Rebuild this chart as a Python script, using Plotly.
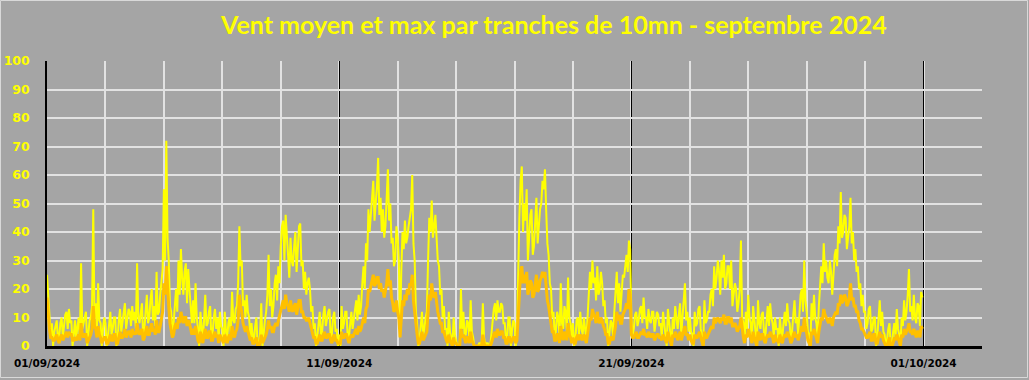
import pandas as pd
import plotly.graph_objects as go

# ---- data: hourly values, 24 per day ----
vent_max = [
    25, 18, 12, 4, 8, 0, 5, 7, 9, 2, 3, 8, 10, 3, 7, 11, 12, 6, 13, 8, 9, 0, 4, 9,          # 01/09
    3, 7, 10, 2, 29, 6, 8, 11, 12, 0, 4, 9, 10, 14, 48, 10, 15, 5, 22, 9, 8, 0, 6, 10,      # 02/09
    8, 0, 3, 9, 12, 4, 6, 10, 10, 0, 2, 9, 13, 5, 8, 11, 15, 6, 10, 13, 12, 7, 14, 9,       # 03/09
    12, 6, 29, 10, 8, 13, 15, 3, 6, 12, 18, 8, 10, 16, 20, 9, 14, 7, 26, 11, 12, 18, 22, 27,# 04/09
    55, 30, 72, 38, 30, 14, 12, 4, 8, 16, 20, 12, 30, 18, 34, 24, 18, 26, 29, 15, 27, 20, 14, 8,  # 05/09
    16, 8, 22, 10, 6, 0, 12, 5, 2, 9, 18, 7, 8, 12, 14, 3, 4, 10, 13, 6, 10, 2, 12, 7,      # 06/09
    6, 0, 12, 5, 3, 8, 10, 4, 19, 9, 8, 13, 14, 22, 42, 28, 30, 14, 16, 10, 18, 12, 10, 3,  # 07/09
    8, 3, 2, 7, 10, 0, 0, 4, 15, 0, 6, 9, 12, 18, 32, 14, 20, 10, 14, 22, 25, 16, 28, 22,   # 08/09
    35, 42, 44, 30, 46, 36, 32, 24, 38, 30, 28, 35, 40, 26, 34, 42, 43, 28, 30, 20, 26, 18, 22, 24,  # 09/09
    20, 12, 14, 6, 8, 0, 3, 9, 12, 4, 5, 11, 14, 7, 10, 12, 13, 3, 4, 10, 12, 5, 6, 0,      # 10/09
    4, 0, 14, 6, 8, 12, 12, 3, 3, 9, 12, 6, 10, 13, 16, 9, 18, 11, 14, 22, 28, 20, 36, 30,  # 11/09
    48, 40, 45, 52, 58, 44, 50, 56, 66, 46, 52, 40, 48, 38, 42, 50, 62, 44, 50, 36, 38, 28, 30, 42,  # 12/09
    38, 30, 5, 26, 40, 34, 44, 36, 38, 42, 45, 48, 60, 36, 30, 12, 8, 0, 2, 9, 12, 4, 6, 10,  # 13/09
    12, 30, 45, 40, 51, 38, 42, 46, 38, 30, 28, 18, 20, 10, 14, 6, 6, 0, 12, 5, 3, 0, 10, 4,  # 14/09
    2, 0, 0, 1, 20, 6, 12, 4, 4, 9, 8, 2, 16, 5, 3, 0, 0, 0, 0, 1, 1, 0, 15, 3,             # 15/09
    0, 1, 1, 0, 0, 4, 10, 13, 15, 9, 16, 12, 12, 15, 14, 8, 8, 2, 3, 10, 10, 0, 6, 9,       # 16/09
    8, 0, 4, 30, 45, 58, 63, 40, 50, 44, 55, 30, 38, 46, 48, 32, 35, 44, 52, 36, 42, 48, 50, 58,  # 17/09
    55, 62, 48, 36, 32, 22, 20, 10, 12, 4, 5, 12, 10, 3, 22, 8, 6, 14, 12, 5, 24, 10, 8, 3,  # 18/09
    8, 0, 2, 9, 10, 4, 12, 6, 4, 10, 6, 2, 10, 18, 26, 20, 30, 22, 24, 16, 28, 18, 20, 26,  # 19/09
    22, 14, 16, 8, 10, 0, 4, 9, 8, 3, 12, 18, 26, 15, 22, 12, 18, 25, 24, 28, 32, 26, 37, 34,  # 20/09
    10, 4, 6, 11, 12, 7, 9, 13, 14, 8, 17, 10, 10, 6, 13, 9, 8, 12, 12, 5, 9, 12, 11, 7,    # 21/09
    8, 3, 12, 7, 5, 0, 13, 8, 3, 0, 10, 6, 14, 9, 6, 11, 15, 4, 10, 16, 22, 9, 12, 5,       # 22/09
    10, 5, 4, 0, 12, 7, 8, 13, 14, 6, 3, 0, 16, 8, 9, 12, 12, 18, 20, 14, 28, 20, 24, 30,   # 23/09
    26, 18, 30, 24, 32, 20, 22, 28, 28, 20, 30, 14, 18, 22, 20, 12, 15, 20, 37, 10, 8, 2, 12, 6,  # 24/09
    18, 10, 8, 2, 14, 9, 4, 0, 16, 8, 6, 11, 12, 4, 3, 9, 14, 7, 15, 10, 8, 3, 10, 6,       # 25/09
    6, 0, 10, 5, 3, 8, 12, 7, 15, 9, 8, 2, 5, 11, 16, 8, 10, 4, 12, 18, 20, 12, 30, 16,     # 26/09
    12, 5, 4, 0, 15, 9, 18, 10, 8, 3, 14, 20, 28, 22, 36, 26, 30, 24, 22, 30, 26, 18, 28, 32,  # 27/09
    34, 28, 42, 36, 54, 38, 40, 46, 45, 34, 38, 42, 52, 36, 40, 30, 34, 26, 28, 20, 22, 14, 18, 12,  # 28/09
    12, 6, 8, 13, 14, 5, 6, 10, 10, 0, 3, 9, 16, 7, 12, 5, 4, 0, 2, 6, 8, 0, 0, 5,          # 29/09
    8, 3, 13, 6, 4, 0, 10, 7, 16, 9, 12, 18, 27, 12, 14, 9, 18, 10, 8, 15, 14, 7, 19, 17,   # 30/09
]
vent_moyen = [
    17, 10, 6, 3, 3, 2, 2, 3, 4, 2, 1, 3, 4, 2, 3, 4, 5, 3, 5, 4, 4, 2, 2, 3,
    2, 3, 4, 2, 8, 4, 3, 4, 4, 1, 2, 3, 4, 6, 14, 7, 6, 3, 7, 4, 3, 1, 2, 3,
    3, 1, 1, 3, 4, 2, 2, 4, 4, 1, 1, 3, 5, 3, 3, 4, 6, 3, 4, 5, 5, 3, 6, 4,
    5, 4, 8, 5, 4, 5, 6, 2, 3, 5, 7, 4, 4, 6, 8, 5, 6, 4, 9, 5, 5, 7, 9, 12,
    22, 18, 28, 18, 14, 8, 6, 3, 4, 7, 8, 6, 10, 8, 12, 10, 8, 10, 10, 7, 9, 8, 6, 4,
    6, 4, 7, 4, 2, 1, 5, 3, 1, 4, 6, 3, 3, 5, 5, 2, 2, 4, 5, 3, 4, 1, 4, 3,
    2, 1, 4, 2, 1, 3, 4, 2, 7, 4, 3, 5, 6, 9, 18, 14, 12, 8, 6, 5, 7, 5, 4, 2,
    3, 1, 1, 2, 3, 0, 0, 1, 4, 1, 2, 3, 4, 6, 9, 6, 7, 5, 5, 7, 8, 7, 9, 10,
    12, 15, 16, 13, 18, 15, 14, 12, 16, 13, 12, 14, 15, 11, 13, 16, 16, 12, 12, 10, 10, 9, 9, 10,
    8, 6, 5, 3, 3, 1, 1, 3, 4, 2, 2, 4, 5, 3, 3, 4, 4, 2, 1, 3, 4, 2, 2, 1,
    1, 1, 5, 3, 3, 4, 4, 2, 1, 3, 4, 3, 4, 5, 6, 4, 7, 5, 6, 8, 10, 8, 13, 14,
    20, 19, 21, 23, 25, 21, 22, 24, 24, 20, 22, 19, 20, 17, 19, 22, 27, 21, 23, 17, 15, 12, 13, 16,
    12, 10, 3, 10, 16, 14, 18, 16, 20, 18, 22, 21, 25, 16, 12, 6, 4, 1, 1, 3, 5, 2, 3, 4,
    5, 12, 18, 16, 22, 18, 17, 19, 14, 12, 10, 8, 8, 5, 5, 3, 2, 1, 4, 2, 1, 0, 3, 1,
    1, 0, 0, 0, 6, 3, 4, 2, 1, 3, 3, 1, 5, 2, 1, 0, 0, 0, 0, 0, 0, 0, 4, 1,
    0, 0, 0, 0, 0, 1, 3, 4, 5, 3, 6, 4, 4, 5, 5, 3, 3, 1, 1, 3, 3, 1, 2, 3,
    3, 1, 2, 12, 20, 26, 28, 22, 25, 22, 26, 18, 20, 23, 22, 17, 18, 21, 25, 19, 20, 23, 24, 26,
    24, 26, 20, 16, 14, 10, 8, 5, 5, 2, 2, 4, 4, 1, 7, 4, 2, 5, 4, 2, 8, 4, 3, 1,
    3, 1, 1, 3, 4, 2, 4, 3, 2, 4, 3, 1, 4, 7, 10, 9, 13, 11, 10, 8, 12, 9, 8, 10,
    9, 7, 6, 4, 4, 1, 1, 3, 3, 2, 4, 7, 12, 9, 11, 8, 8, 11, 12, 13, 15, 13, 20, 18,
    4, 3, 3, 4, 5, 3, 3, 4, 5, 4, 6, 4, 4, 3, 5, 4, 3, 4, 4, 2, 3, 4, 4, 3,
    3, 2, 4, 3, 2, 1, 5, 3, 1, 0, 4, 3, 5, 4, 2, 4, 5, 2, 4, 5, 7, 4, 4, 2,
    4, 2, 1, 1, 4, 3, 3, 4, 5, 3, 1, 0, 5, 3, 3, 4, 5, 6, 7, 6, 10, 8, 9, 10,
    9, 8, 10, 9, 11, 8, 8, 10, 10, 8, 10, 7, 7, 8, 7, 5, 6, 7, 10, 5, 3, 1, 4, 3,
    6, 4, 3, 1, 5, 3, 1, 0, 5, 3, 2, 4, 4, 2, 1, 3, 4, 3, 5, 4, 3, 1, 4, 2,
    2, 1, 4, 2, 1, 3, 4, 3, 5, 4, 3, 1, 2, 4, 5, 3, 4, 2, 4, 6, 7, 5, 10, 7,
    4, 2, 1, 0, 5, 4, 6, 4, 3, 1, 5, 7, 10, 9, 13, 11, 10, 9, 8, 10, 9, 7, 10, 11,
    12, 11, 15, 14, 18, 15, 16, 18, 17, 14, 15, 17, 22, 16, 17, 14, 14, 12, 12, 9, 8, 6, 6, 5,
    4, 3, 3, 4, 5, 2, 2, 4, 4, 1, 1, 3, 5, 3, 4, 2, 1, 0, 0, 2, 3, 0, 0, 1,
    3, 2, 4, 3, 1, 0, 4, 3, 6, 4, 5, 6, 8, 5, 5, 4, 6, 4, 3, 5, 5, 3, 7, 6,
]
date_ticks = ["2024-09-01", "2024-09-11", "2024-09-21", "2024-10-01"]
date_labels = ["01/09/2024", "11/09/2024", "21/09/2024", "01/10/2024"]
y_ticks = list(range(0, 101, 10))
title_text = "Vent moyen et max par tranches de 10mn - septembre 2024"

times = pd.date_range("2024-09-01 00:00", periods=len(vent_max), freq="1h")

BG = "#A5A5A5"
GRID = "#E2E2E2"

fig = go.Figure()
fig.add_trace(go.Scatter(x=times, y=vent_max, mode="lines", name="max",
                         line=dict(color="#FFFF00", width=2), showlegend=False))
fig.add_trace(go.Scatter(x=times, y=vent_moyen, mode="lines", name="moyen",
                         line=dict(color="#FFC000", width=3), showlegend=False))

L, R, T, B = 47, 47, 61, 34
W, H = 1029, 380
pw, ph = W - L - R, H - T - B

fig.update_layout(
    width=W, height=H,
    margin=dict(l=L, r=R, t=T, b=B, autoexpand=False),
    paper_bgcolor=BG, plot_bgcolor=BG,
    font=dict(family="DejaVu Sans", size=11),
    xaxis=dict(
        type="date", range=["2024-09-01", "2024-10-03"],
        tickvals=date_ticks, ticktext=date_labels,
        tickfont=dict(family="DejaVu Sans", size=10.5, color="black", weight="bold"),
        showgrid=True, gridcolor="black", gridwidth=1,
        minor=dict(dtick=2 * 86400000, tick0="2024-09-01", showgrid=True,
                   gridcolor=GRID, gridwidth=1.5),
        showline=True, linecolor="black", linewidth=3,
        ticks="", ticklabelstandoff=5, zeroline=False, automargin=False,
    ),
    yaxis=dict(
        range=[0, 100], tickvals=y_ticks,
        tickfont=dict(family="DejaVu Sans", size=12.5, color="#FFFF00", weight="bold"),
        showgrid=True, gridcolor=GRID, gridwidth=1.5,
        showline=True, linecolor="black", linewidth=1.5,
        ticks="", ticklabelstandoff=13, zeroline=False, automargin=False,
    ),
    annotations=[dict(
        text=title_text, xref="paper", yref="paper",
        x=(553.5 - L) / pw, y=1 + (T - 24) / ph,
        xanchor="center", yanchor="middle", showarrow=False,
        font=dict(family="Lato", size=25, color="#FFFF00", weight="bold"),
    )],
    shapes=[dict(
        type="rect", xref="paper", yref="paper", layer="above",
        x0=(0.5 - L) / pw, x1=(W - 1.5 - L) / pw,
        y0=-(377.5 - (T + ph)) / ph, y1=1 + (T - 0.5) / ph,
        line=dict(color="#D9D9D9", width=1), fillcolor="rgba(0,0,0,0)",
    )],
)

fig.write_html("out.html", config={"displayModeBar": False},
               post_script="document.body.style.margin='0';")
